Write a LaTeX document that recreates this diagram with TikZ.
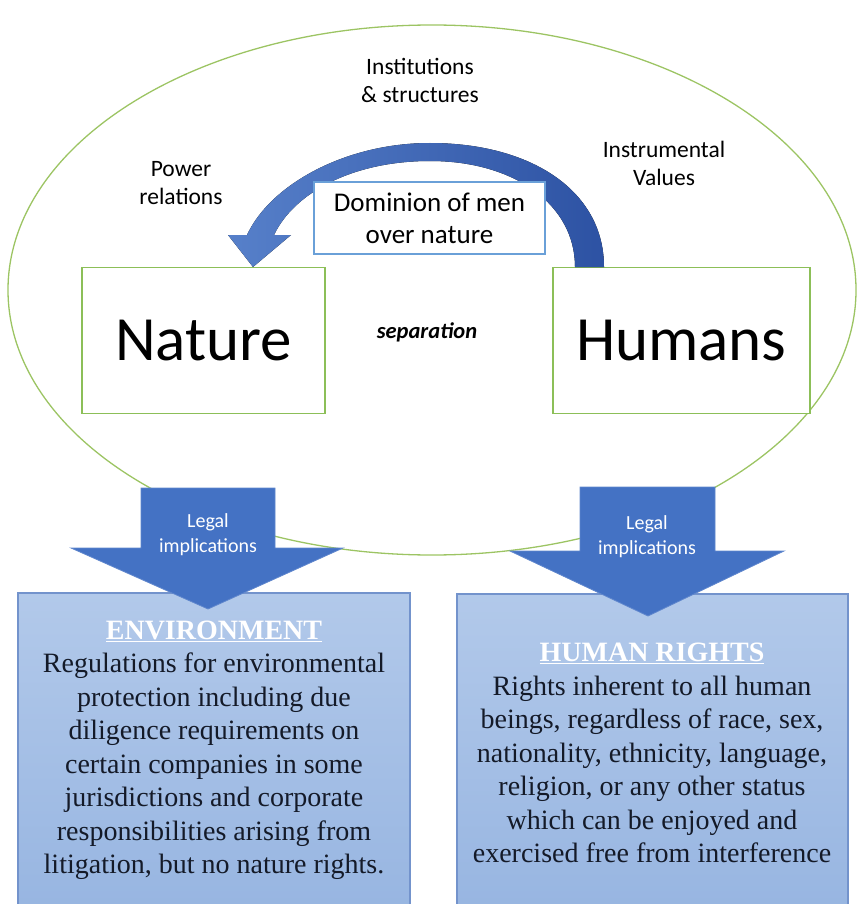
\documentclass[tikz,border=0pt]{standalone}
\usepackage{fontspec}
\setmainfont{Carlito}
\newfontfamily\boxfont{Liberation Serif}
\usetikzlibrary{positioning}

\definecolor{ringgreen}{HTML}{9CC463}
\definecolor{framegreen}{HTML}{8CBF58}
\definecolor{arrowblue}{HTML}{4472C4}
\definecolor{arrowdark}{HTML}{2D52A3}
\definecolor{dombord}{HTML}{6AA0D8}
\definecolor{boxtop}{HTML}{B2C9EA}
\definecolor{boxbot}{HTML}{97B5E1}
\definecolor{boxedge}{HTML}{7393CC}
\definecolor{inktext}{HTML}{141A28}

\begin{document}
\begin{tikzpicture}[x=1pt,y=-1pt,
  ring/.style={draw=ringgreen, line width=1.3pt},
  frame/.style={draw=framegreen, line width=1.8pt, fill=white, minimum height=146pt,
    font=\fontsize{63}{70}\selectfont},
  note/.style={align=center, font=\fontsize{23.5}{28}\selectfont},
  legal/.style={fill=arrowblue, draw=arrowblue!85!white, line width=0.8pt},
  legaltext/.style={align=center, text=white, font=\fontsize{20}{25}\selectfont},
  infobox/.style={top color=boxtop, bottom color=boxbot, draw=boxedge, line width=2pt},
  infotext/.style={align=center, text=inktext, font=\boxfont\fontsize{28}{33.5}\selectfont}]
\useasboundingbox (0,0) rectangle (858,904);
\clip (0,0) rectangle (858,904);

% the ring round nature and humans
\draw[ring] (432,290) ellipse (424 and 265);

\node[frame, minimum width=243pt] (nature) at (203.5,340.5) {Nature};
\node[frame, minimum width=257pt, right=226pt of nature] (humans) {Humans};

% curved block arrow, humans -> nature
\fill[left color=arrowblue!90!white, right color=arrowdark]
  (604,267) .. controls (604,190) and (530,143) .. (430,143)
  .. controls (345,143) and (270,185) .. (247,235)
  -- (228,235) -- (253,267) -- (291,235) -- (274,235)
  .. controls (294,193) and (352,161) .. (430,161)
  .. controls (515,161) and (575,205) .. (575,267) -- cycle;

\node[draw=dombord, fill=white, line width=1.3pt, minimum width=231pt, minimum height=72pt,
  align=center, font=\fontsize{27}{32}\selectfont] (dominion) at (429.5,218)
  {Dominion of men\\over nature};

\node[note] (inst) at (420,80) {Institutions\\\& structures};
\node[note] (power) at (181,183) {Power\\relations};
\node[note] (instr) at (664,163) {Instrumental\\Values};
\node[font=\bfseries\itshape\fontsize{22.5}{26}\selectfont] (sep) at (427,332) {separation};

% boxes at the bottom
\draw[infobox] (18,593) rectangle (410,915);
\draw[infobox] (457,594) rectangle (848,915);

% legal implications
\fill[legal] (141,488) -- (275,488) -- (275,548) -- (343,548) -- (208,609) -- (71,548) -- (141,548) -- cycle;
\node[legaltext] (legalL) at (208,535) {Legal\\implications};
\fill[legal] (580,487) -- (715,487) -- (715,551) -- (784,551) -- (648,616) -- (510,551) -- (580,551) -- cycle;
\node[legaltext] (legalR) at (647,537) {Legal\\implications};

\node[infotext] (envtext) at (214,750) {\textcolor{white}{\underline{\textbf{ENVIRONMENT}}}\\
  Regulations for environmental\\protection including due\\diligence requirements on\\
  certain companies in some\\jurisdictions and corporate\\responsibilities arising from\\
  litigation, but no nature rights.};
\node[infotext] (hrtext) at (652,753) {\textcolor{white}{\underline{\textbf{HUMAN RIGHTS}}}\\
  Rights inherent to all human\\beings, regardless of race, sex,\\nationality, ethnicity, language,\\
  religion, or any other status\\which can be enjoyed and\\exercised free from interference};
\end{tikzpicture}
\end{document}
